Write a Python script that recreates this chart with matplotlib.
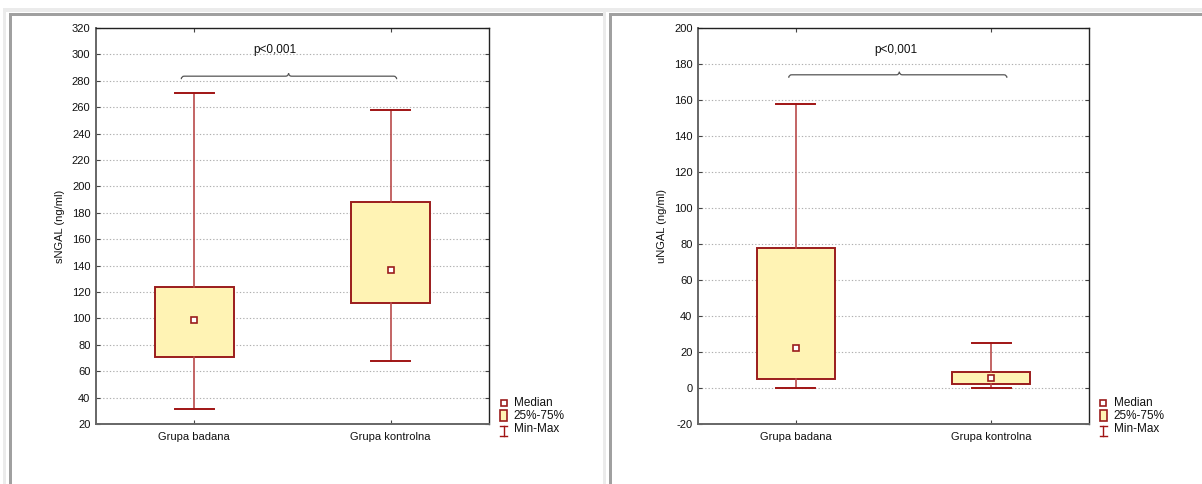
import matplotlib
matplotlib.use("Agg")
import matplotlib.pyplot as plt
from matplotlib.patches import Rectangle
from matplotlib.path import Path
from matplotlib.patches import PathPatch
from matplotlib.transforms import IdentityTransform

plt.rcParams['font.family'] = ['Liberation Sans', 'DejaVu Sans']
plt.rcParams['font.size'] = 8
plt.rcParams['axes.unicode_minus'] = False

groups = ['Grupa badana', 'Grupa kontrolna']

# min, q1, median, q3, max per group
sngal_min = [31, 68]
sngal_q1 = [71, 112]
sngal_med = [99, 137]
sngal_q3 = [124, 188]
sngal_max = [271, 258]

ungal_min = [0, 0]
ungal_q1 = [5, 2]
ungal_med = [22, 5.5]
ungal_q3 = [78, 9]
ungal_max = [157.5, 25]

p_text = 'p<0,001'

BOX_FACE = '#fff3b4'
BOX_EDGE = '#9b1c1c'
WHISK = '#b94a4a'
CAP = '#a01414'

W, H = 1202, 484
fig = plt.figure(figsize=(W / 100, H / 100), dpi=100)


def fx(px):
    return px / W


def fy(py):
    return 1 - py / H


# sunken panel frames
def frame(x_light, x_dark, x_end):
    fig.add_artist(Rectangle((fx(x_light), 0), fx(3), fy(8), transform=fig.transFigure,
                             facecolor='#ebebeb', edgecolor='none'))
    fig.add_artist(Rectangle((fx(x_light), fy(12)), fx(x_end - x_light), 4 / H,
                             transform=fig.transFigure, facecolor='#ebebeb', edgecolor='none'))
    fig.add_artist(Rectangle((fx(x_dark), 0), fx(3), fy(13), transform=fig.transFigure,
                             facecolor='#a0a0a0', edgecolor='none'))
    fig.add_artist(Rectangle((fx(x_dark), fy(16)), fx(x_end - x_dark), 3 / H,
                             transform=fig.transFigure, facecolor='#a0a0a0', edgecolor='none'))


frame(3, 9, 603)
frame(603, 609, W)


def brace(ax, x0, x1, xm, y, h=3):
    t = ax.transData
    (a, yy), (b, _), (m, _) = t.transform([(x0, y), (x1, y), (xm, y)])
    verts = [(a, yy - h), (a, yy), (a + h, yy),
             (m - h, yy), (m, yy), (m, yy + h),
             (m, yy), (m + h, yy),
             (b - h, yy), (b, yy), (b, yy - h)]
    codes = [Path.MOVETO, Path.CURVE3, Path.CURVE3,
             Path.LINETO, Path.CURVE3, Path.CURVE3,
             Path.CURVE3, Path.CURVE3,
             Path.LINETO, Path.CURVE3, Path.CURVE3]
    fig.add_artist(PathPatch(Path(verts, codes), transform=IdentityTransform(),
                             facecolor='none', edgecolor='#555555', lw=0.9))


def legend(ax):
    xm, xt = 1.037, 1.063
    tr = ax.transAxes
    ax.plot([xm], [0.053], marker='s', ms=3.8, mfc='white', mec=BOX_EDGE, mew=1.2,
            transform=tr, clip_on=False)
    ax.add_patch(Rectangle((xm - 0.009, 0.007), 0.018, 0.028, transform=tr, clip_on=False,
                           facecolor=BOX_FACE, edgecolor=BOX_EDGE, lw=1.2))
    ax.plot([xm, xm], [-0.03, -0.004], color=CAP, lw=1, transform=tr, clip_on=False)
    for yc in (-0.03, -0.004):
        ax.plot([xm - 0.01, xm + 0.01], [yc, yc], color=CAP, lw=1, transform=tr, clip_on=False)
    for yy, s in zip((0.053, 0.020, -0.013), ('Median', '25%-75%', 'Min-Max')):
        ax.text(xt, yy, s, transform=tr, va='center', ha='left', fontsize=8.5, color='#111111')


def panel(rect, mins, q1s, meds, q3s, maxs, ylim, ylabel, bx, by, tx, ty):
    ax = fig.add_axes(rect)
    stats = [dict(whislo=mn, q1=a, med=m, q3=b, whishi=mx, fliers=[])
             for mn, a, m, b, mx in zip(mins, q1s, meds, q3s, maxs)]
    ax.bxp(stats, positions=[1, 2], widths=0.4, capwidths=0.2, patch_artist=True,
           showfliers=False,
           boxprops=dict(facecolor=BOX_FACE, edgecolor=BOX_EDGE, lw=1.4),
           whiskerprops=dict(color=WHISK, lw=1.2),
           capprops=dict(color=CAP, lw=1.4),
           medianprops=dict(visible=False))
    ax.plot([1, 2], meds, ls='none', marker='s', ms=3.8, mfc='white', mec=BOX_EDGE, mew=1.2,
            zorder=4)
    ax.set_xlim(0.5, 2.5)
    ax.set_ylim(*ylim)
    ax.set_yticks(range(ylim[0], ylim[1] + 1, 20))
    ax.set_xticks([1, 2])
    ax.set_xticklabels(groups)
    ax.yaxis.grid(True, ls=(0, (1.2, 1.8)), color='#b0b0b0', lw=0.8)
    ax.set_axisbelow(True)
    ax.tick_params(axis='both', direction='in', length=3, color='#444444', labelcolor='#111111',
                   top=True, right=True, pad=4)
    ax.tick_params(axis='x', pad=6)
    for s in ('top', 'right'):
        ax.spines[s].set_color('#222222')
        ax.spines[s].set_linewidth(1)
    for s in ('left', 'bottom'):
        ax.spines[s].set_color('#666666')
        ax.spines[s].set_linewidth(1.4)
    ax.set_ylabel(ylabel, labelpad=5, color='#111111')
    ax.text(tx, ty, p_text, ha='center', va='center', fontsize=8.5, color='#111111')
    brace(ax, bx[0], bx[1], bx[2], by)
    legend(ax)
    return ax


panel([fx(96), fy(424), fx(393), 396 / H],
      sngal_min, sngal_q1, sngal_med, sngal_q3, sngal_max,
      (20, 320), 'sNGAL (ng/ml)', (0.934, 2.03, 1.48), 283.5, 1.41, 303)
panel([fx(698), fy(424), fx(391), 396 / H],
      ungal_min, ungal_q1, ungal_med, ungal_q3, ungal_max,
      (-20, 200), 'uNGAL (ng/ml)', (0.964, 2.08, 1.53), 174, 1.51, 188)

fig.savefig('out.png', dpi=100)
